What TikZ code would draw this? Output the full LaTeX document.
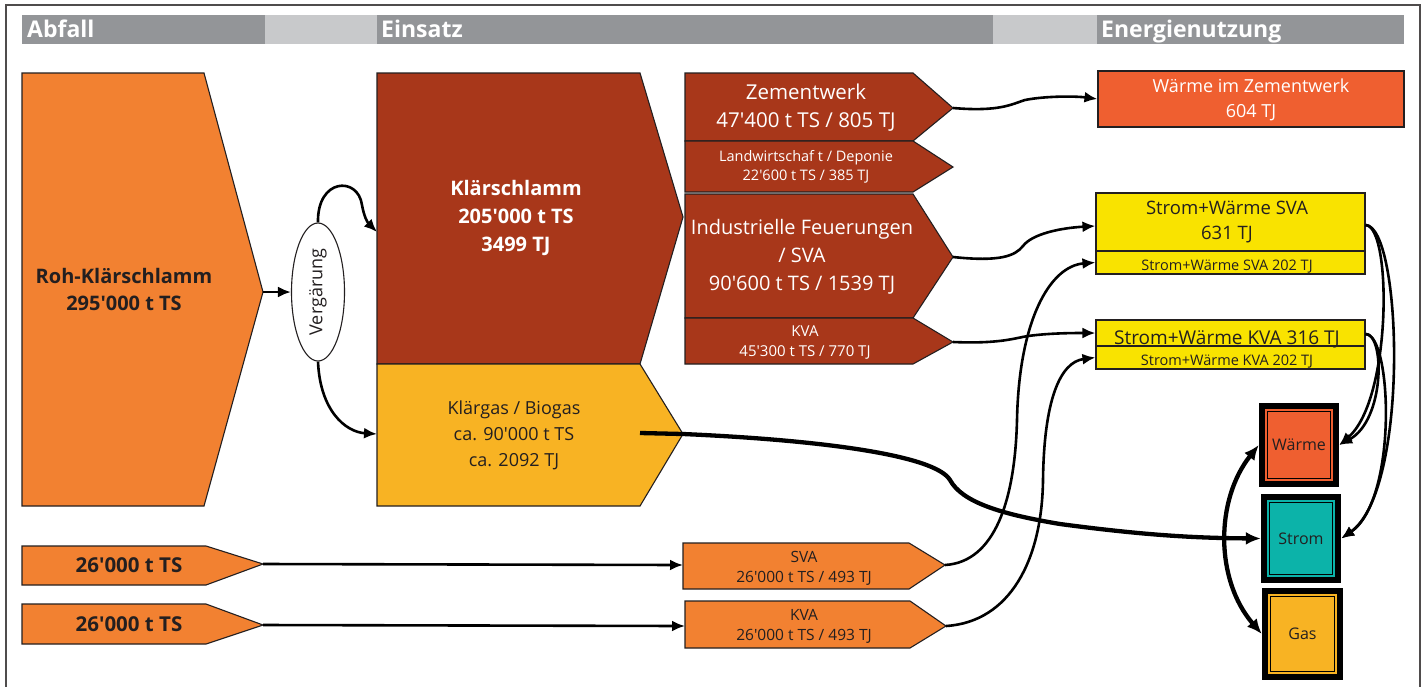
\documentclass[tikz,border=0pt]{standalone}
\usepackage{fontspec}
\newfontfamily\osans{Open Sans}
\usetikzlibrary{arrows.meta,calc,shapes.geometric}

\definecolor{hdrdark}{HTML}{939598}
\definecolor{hdrlight}{HTML}{C8C9CB}
\definecolor{rohorange}{HTML}{F28131}
\definecolor{sludge}{HTML}{A8371A}
\definecolor{gasamber}{HTML}{F8B323}
\definecolor{heatred}{HTML}{EF5F30}
\definecolor{cogen}{HTML}{F9E300}
\definecolor{power}{HTML}{0CB3A9}
\definecolor{ink}{HTML}{231F20}

\newcommand{\fs}[2]{\osans\fontsize{#1}{#2}\selectfont}

\tikzset{
  shapeline/.style={draw=ink, line width=1.1pt, line join=miter},
  hdrtext/.style={anchor=base west, inner sep=0pt, text=white, font=\fs{23}{27}\bfseries},
  dtxt/.style={align=center, inner sep=0pt, text=ink},
  ltxt/.style={align=center, inner sep=0pt, text=white},
  plainbox/.style={rectangle, draw=ink, line width=1.1pt, inner sep=0pt},
  flow/.style={draw=black, line width=2.6pt, -{Latex[length=13pt,width=11pt]}},
  heavyflow/.style={draw=black, line width=4.3pt, -{Latex[length=15pt,width=13pt]}},
  heavyboth/.style={draw=black, line width=4.3pt, {Latex[length=15pt,width=13pt]}-{Latex[length=15pt,width=13pt]}},
}

\begin{document}
\begin{tikzpicture}[x=1pt,y=-1pt]
\useasboundingbox (0,0) rectangle (1426,686);
\fill[white] (0,0) rectangle (1426,686);
% frame
\draw[ink!80, line width=1.2pt] (6,690) -- (6,5) -- (1420,5) -- (1420,690);

% column headers
\fill[hdrdark] (22,15) rectangle (265,44);
\fill[hdrlight] (265,15) rectangle (377,44);
\fill[hdrdark] (377,15) rectangle (993,44);
\fill[hdrlight] (993,15) rectangle (1097,44);
\fill[hdrdark] (1097,15) rectangle (1404,44);
\node[hdrtext] (habfall) at (27,37) {Abfall};
\node[hdrtext] (heinsatz) at (381,37) {Einsatz};
\node[hdrtext] (henergie) at (1101,37) {Energienutzung};

% raw sludge
\draw[shapeline, fill=rohorange] (22,73) -- (204,73) -- (263,292) -- (204,506) -- (22,506) -- cycle;
\coordinate (rohtip) at (263,292);
\node[dtxt, font=\fs{20}{27}\bfseries] (roh) at (124,289) {Roh-Klärschlamm\\295'000 t TS};

% digestion
\node[ellipse, draw=ink, line width=1.1pt, fill=white, minimum width=53pt, minimum height=138pt, inner sep=0pt] (verg) at (318,292) {};
\node[dtxt, rotate=90, font=\fs{18}{22}] (vergtxt) at (verg.center) {Vergärung};

% sewage sludge and sewage gas
\draw[shapeline, fill=sludge] (377,73) -- (640,73) -- (683,217) -- (640,364) -- (377,364) -- cycle;
\node[ltxt, font=\fs{20}{28}\bfseries] (ks) at (516,218) {Klärschlamm\\205'000 t TS\\3499 TJ};
\coordinate (ksin) at (377,232);
\draw[shapeline, fill=gasamber] (377,364) -- (640,364) -- (683,434) -- (640,506) -- (377,506) -- cycle;
\node[dtxt, font=\fs{18}{26}] (kg) at (514,435) {Klärgas / Biogas\\ca. 90'000 t TS\\ca. 2092 TJ};
\coordinate (kgin) at (377,434);
\coordinate (gasfrom) at (640,433);
\coordinate (gastip) at (683,434);

% uses of sludge
\draw[shapeline, fill=sludge] (685,73) -- (913,73) -- (953,108) -- (913,141) -- (685,141) -- cycle;
\coordinate (zemtip) at (953,108);
\node[ltxt, font=\fs{20.5}{28}] (zem) at (806,108) {Zementwerk\\47'400 t TS / 805 TJ};
\draw[shapeline, fill=sludge] (685,141) -- (913,141) -- (953,167) -- (913,192) -- (685,192) -- cycle;
\node[ltxt, font=\fs{14.5}{19.5}] (landw) at (806,167) {Landwirtschaf t / Deponie\\22'600 t TS / 385 TJ};
\draw[shapeline, fill=sludge] (685,194) -- (913,194) -- (953,257) -- (913,318) -- (685,318) -- cycle;
\coordinate (indtip) at (953,257);
\node[ltxt, font=\fs{20}{28}] (ind) at (802,257) {Industrielle Feuerungen\\/ SVA\\90'600 t TS / 1539 TJ};
\draw[shapeline, fill=sludge] (685,318) -- (913,318) -- (953,342) -- (913,364) -- (685,364) -- cycle;
\coordinate (kvatip) at (953,342);
\node[ltxt, font=\fs{15}{20}] (kva) at (805,343) {KVA\\45'300 t TS / 770 TJ};

% other sludge streams
\draw[shapeline, fill=rohorange] (22,546) -- (206,546) -- (263,564) -- (206,585) -- (22,585) -- cycle;
\coordinate (b1tip) at (263,564);
\node[dtxt, font=\fs{20.5}{24}\bfseries] (b1txt) at (129,565) {26'000 t TS};
\draw[shapeline, fill=rohorange] (22,604) -- (206,604) -- (263,625) -- (206,644) -- (22,644) -- cycle;
\coordinate (b2tip) at (263,625);
\node[dtxt, font=\fs{20.5}{24}\bfseries] (b2txt) at (129,624) {26'000 t TS};

\draw[shapeline, fill=rohorange] (683,543) -- (909,543) -- (945,565) -- (909,589) -- (683,589) -- cycle;
\coordinate (svbin) at (683,565);
\coordinate (svbtip) at (945,565);
\node[dtxt, font=\fs{15.5}{20}] (svbtxt) at (804,568) {SVA\\26'000 t TS / 493 TJ};
\draw[shapeline, fill=rohorange] (685,601) -- (910,601) -- (946,626) -- (910,648) -- (685,648) -- cycle;
\coordinate (kvbin) at (685,626);
\coordinate (kvbtip) at (946,626);
\node[dtxt, font=\fs{15.5}{20}] (kvbtxt) at (804,626) {KVA\\26'000 t TS / 493 TJ};

% energy use
\node[plainbox, fill=heatred, minimum width=306pt, minimum height=56pt] (wz) at (1251,99) {};
\node[ltxt, font=\fs{18}{25}] (wztxt) at (1251,100) {Wärme im Zementwerk\\604 TJ};
\node[plainbox, fill=cogen, minimum width=269pt, minimum height=58pt] (svabig) at (1230.5,222) {};
\node[plainbox, fill=cogen, minimum width=269pt, minimum height=23pt] (svasmall) at (1230.5,262.5) {};
\node[dtxt, font=\fs{18.5}{25}] (svabigtxt) at (1227,222) {Strom+Wärme SVA\\631 TJ};
\node[dtxt, font=\fs{14.5}{17}, anchor=base] (svasmalltxt) at (1227,270) {Strom+Wärme SVA 202 TJ};
\node[plainbox, fill=cogen, minimum width=269pt, minimum height=26pt] (kvabig) at (1230.5,333) {};
\node[plainbox, fill=cogen, minimum width=269pt, minimum height=23pt] (kvasmall) at (1230.5,357.5) {};
\node[dtxt, font=\fs{19}{22}, anchor=base] (kvabigtxt) at (1227,344) {Strom+Wärme KVA 316 TJ};
\node[dtxt, font=\fs{14.5}{17}, anchor=base] (kvasmalltxt) at (1227,365) {Strom+Wärme KVA 202 TJ};

% final energy forms
\foreach \nm/\px/\py/\w/\h/\col/\lbl in {waerme/1299/445/80/84/heatred/Wärme, strom/1301/538.5/80/89/power/Strom, gas/1302.5/634/81/92/gasamber/Gas}{
  \node[fill=black, minimum width=\w pt, minimum height=\h pt, inner sep=0pt] (\nm) at (\px,\py) {};
  \fill[\col] ($(\nm.north west)+(6,6)$) rectangle ($(\nm.south east)+(-6,-6)$);
  \draw[black, line width=1.2pt, fill=\col] ($(\nm.north west)+(8.6,8.6)$) rectangle ($(\nm.south east)+(-8.6,-8.6)$);
  \node[dtxt, font=\fs{16}{20}] (\nm-txt) at (\nm.center) {\lbl};
}

% connectors
\draw[flow] (rohtip) -- (verg.west);
\draw[flow] (verg.north) .. controls (317,178) and (358,176) .. (362,205) .. controls (364,216) and (367,222) .. (ksin);
\draw[flow] (verg.south) .. controls (320,410) and (345,432) .. (kgin);

\draw[flow] (zemtip) .. controls (1000,112) and (1012,104) .. (1025,100) .. controls (1045,96) and (1075,96) .. (wz.west);
\draw[flow] (indtip) .. controls (1000,262) and (1015,256) .. (1023,246) .. controls (1032,234) and (1060,228) .. ($(svabig.west)+(0,4)$);
\draw[flow] (kvatip) .. controls (1000,344) and (1015,338) .. (1028,336) .. controls (1050,333) and (1075,333) .. (kvabig.west);

\draw[flow] (b1tip) -- (svbin);
\draw[flow] (b2tip) -- (kvbin);
\draw[flow] (svbtip) .. controls (995,562) and (1015,500) .. (1017,420) .. controls (1019,320) and (1050,266) .. (svasmall.west);
\draw[flow] (kvbtip) .. controls (1010,622) and (1042,560) .. (1043,480) .. controls (1044,400) and (1060,362) .. (kvasmall.west);

\draw[heavyflow] (gasfrom) -- (gastip) .. controls (820,440) and (935,455) .. (950,480) .. controls (962,502) and (1000,514) .. (1060,524) .. controls (1150,536) and (1200,538) .. (strom.west);

\draw[flow] ($(svabig.east)+(0,3)$) .. controls (1392,226) and (1392,400) .. (waerme.east);
\draw[flow] ($(svabig.east)+(0,3)$) .. controls (1402,226) and (1410,490) .. (strom.east);
\draw[flow] ($(kvabig.east)+(0,1)$) .. controls (1385,334) and (1385,420) .. (waerme.east);
\draw[flow] ($(kvabig.east)+(0,1)$) .. controls (1392,334) and (1398,500) .. (strom.east);

\draw[heavyboth] (waerme.west) .. controls (1215,500) and (1215,580) .. (gas.west);
\end{tikzpicture}
\end{document}
